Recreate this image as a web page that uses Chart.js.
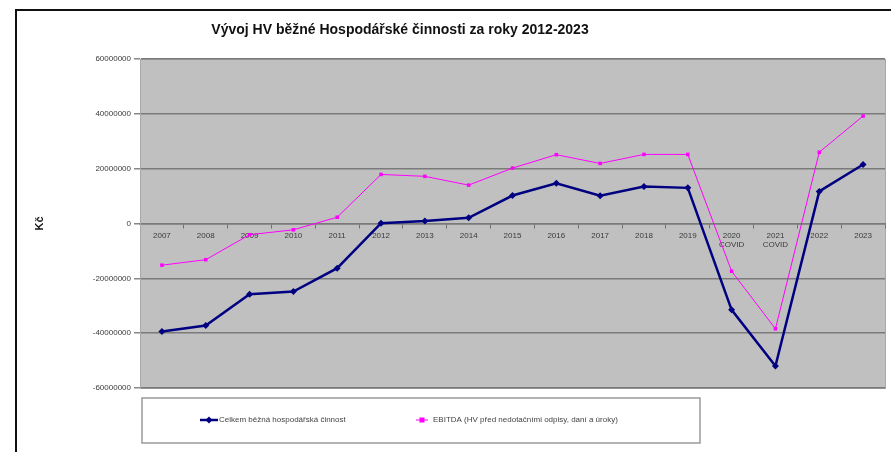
<!DOCTYPE html>
<html>
<head>
<meta charset="utf-8">
<title>Vývoj HV</title>
<script src="https://cdn.jsdelivr.net/npm/chart.js@4"></script>
<style>
  html, body { margin: 0; padding: 0; background: #fff; }
  #wrap { width: 891px; height: 452px; position: relative; }
</style>
</head>
<body>
<div id="wrap"><canvas id="chartHV" width="891" height="452"></canvas></div>
<script>
// roky
const years = ["2007", "2008", "2009", "2010", "2011", "2012", "2013", "2014", "2015",
    "2016", "2017", "2018", "2019", ["2020", "COVID"], ["2021", "COVID"], "2022", "2023"];

// Celkem běžná hospodářská činnost (Kč)
const celkem = [-39400000, -37200000, -25800000, -24800000, -16300000, 100000, 900000,
    2100000, 10200000, 14700000, 10100000, 13500000, 13000000, -31500000, -52000000,
    11700000, 21500000];

// EBITDA (Kč)
const ebitda = [-15200000, -13200000, -4100000, -2300000, 2300000, 17900000, 17200000,
    14000000, 20200000, 25100000, 21900000, 25200000, 25200000, -17400000, -38400000,
    26000000, 39200000];

const yTicks = [-60000000, -40000000, -20000000, 0, 20000000, 40000000, 60000000];

const chartTitle = "Vývoj HV běžné Hospodářské činnosti za roky 2012-2023";
const FONT = "'Liberation Sans', Arial, sans-serif";

// ramecek, sede pozadi, nadpis a legenda ve stylu Excelu
const excelLook = {
    id: "excelLook",
    beforeDraw(chart) {
        const { ctx, chartArea: a } = chart;
        ctx.save();
        ctx.fillStyle = "#c0c0c0";
        ctx.fillRect(a.left, a.top, a.right - a.left, a.bottom - a.top);
        ctx.strokeStyle = "#a8a8a8";
        ctx.lineWidth = 1;
        ctx.strokeRect(a.left + 0.5, a.top + 0.5, a.right - a.left, a.bottom - a.top);
        ctx.restore();
    },
    afterDraw(chart) {
        const ctx = chart.ctx;
        ctx.save();
        // vnejsi ramecek
        ctx.strokeStyle = "#111";
        ctx.lineWidth = 2;
        ctx.strokeRect(16, 10, 900, 460);

        // nadpis
        ctx.fillStyle = "#111";
        ctx.font = "bold 14px " + FONT;
        ctx.textAlign = "center";
        ctx.textBaseline = "middle";
        ctx.fillText(chartTitle, 400, 30);

        // legenda
        ctx.strokeStyle = "#9a9a9a";
        ctx.lineWidth = 1.5;
        ctx.strokeRect(142, 398, 558, 45);
        const ds = chart.data.datasets;
        const ly = 420;
        ctx.font = "8px " + FONT;
        ctx.textAlign = "left";

        ctx.strokeStyle = ds[0].borderColor;
        ctx.lineWidth = 2.5;
        ctx.beginPath();
        ctx.moveTo(200, ly);
        ctx.lineTo(218, ly);
        ctx.stroke();
        ctx.fillStyle = ds[0].borderColor;
        ctx.beginPath();
        ctx.moveTo(209, ly - 3.5);
        ctx.lineTo(212.5, ly);
        ctx.lineTo(209, ly + 3.5);
        ctx.lineTo(205.5, ly);
        ctx.closePath();
        ctx.fill();
        ctx.fillStyle = "#444";
        ctx.fillText(ds[0].label, 219, ly);

        ctx.strokeStyle = ds[1].borderColor;
        ctx.lineWidth = 1;
        ctx.beginPath();
        ctx.moveTo(416, ly);
        ctx.lineTo(428, ly);
        ctx.stroke();
        ctx.fillStyle = ds[1].borderColor;
        ctx.fillRect(419.5, ly - 2.5, 5, 5);
        ctx.fillStyle = "#444";
        ctx.fillText(ds[1].label, 433, ly);
        ctx.restore();
    }
};

function initChart() {
    const canvas = document.getElementById("chartHV");
    new Chart(canvas, {
        type: "line",
        data: {
            labels: years,
            datasets: [{
                label: "Celkem běžná hospodářská činnost",
                data: celkem,
                borderColor: "#000080",
                backgroundColor: "#000080",
                borderWidth: 2.5,
                pointStyle: "rectRot",
                pointRadius: 3.5,
                pointBorderWidth: 0,
                tension: 0
            }, {
                label: "EBITDA (HV před nedotačními odpisy, daní a úroky)",
                data: ebitda,
                borderColor: "#ff00ff",
                backgroundColor: "#ff00ff",
                borderWidth: 1,
                pointStyle: "rect",
                pointRadius: 2.5,
                pointBorderWidth: 0,
                tension: 0
            }]
        },
        options: {
            responsive: false,
            animation: false,
            layout: { padding: { top: 59, bottom: 64, left: 25, right: 6 } },
            plugins: {
                legend: { display: false },
                title: { display: false },
                tooltip: { enabled: false }
            },
            scales: {
                x: {
                    type: "category",
                    position: { y: 0 },
                    offset: true,
                    grid: {
                        offset: true,
                        drawOnChartArea: false,
                        drawTicks: true,
                        tickLength: 4,
                        color: "#707070"
                    },
                    border: { display: true, color: "#7a7a7a", width: 1.5 },
                    ticks: {
                        color: "#3a3a3a",
                        font: { family: FONT, size: 8 },
                        padding: 3,
                        maxRotation: 0,
                        autoSkip: false
                    }
                },
                y: {
                    min: -60000000,
                    max: 60000000,
                    afterFit: s => { s.width = 115; },
                    afterBuildTicks: s => { s.ticks = yTicks.map(v => ({ value: v })); },
                    grid: {
                        color: "#7a7a7a",
                        lineWidth: 1.5,
                        tickLength: 6,
                        tickColor: "#888"
                    },
                    border: { display: true, color: "#a8a8a8", width: 1 },
                    ticks: {
                        color: "#3a3a3a",
                        font: { family: FONT, size: 8 },
                        padding: 3,
                        callback: v => String(v)
                    },
                    title: {
                        display: true,
                        text: "Kč",
                        color: "#111",
                        font: { family: FONT, size: 11, weight: "bold" },
                        padding: { top: 8 }
                    }
                }
            }
        },
        plugins: [excelLook]
    });
}

document.addEventListener("DOMContentLoaded", initChart);
</script>
</body>
</html>
